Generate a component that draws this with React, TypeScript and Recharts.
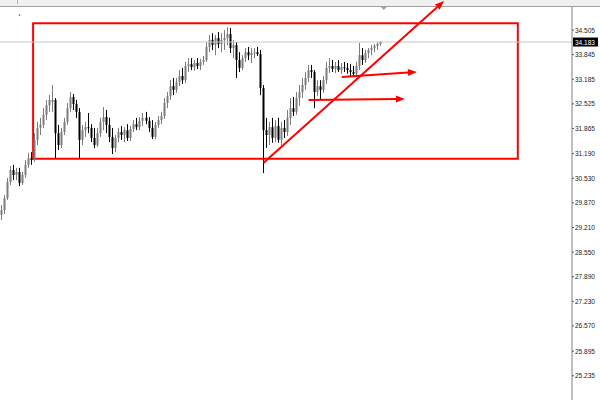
import React from 'react';
import { ComposedChart, Bar, XAxis, YAxis, ReferenceLine, ReferenceArea, ReferenceDot } from 'recharts';

// [open, high, low, close]
const candles: [number, number, number, number][] = [
  [29.55, 29.81, 29.41, 29.68], [29.68, 30.08, 29.57, 30.0], [30.0, 30.54, 29.95, 30.43], [30.43, 30.86, 30.35, 30.75],
  [30.75, 30.89, 30.48, 30.62], [30.62, 30.81, 30.48, 30.7], [30.7, 30.81, 30.32, 30.4], [30.4, 30.7, 30.35, 30.62],
  [30.62, 31.02, 30.54, 30.89], [30.89, 31.21, 30.81, 31.07], [31.07, 31.23, 30.89, 31.02], [31.02, 31.74, 30.97, 31.56],
  [31.56, 32.04, 31.42, 31.88], [31.88, 32.15, 31.69, 31.96], [31.96, 32.41, 31.88, 32.23], [32.23, 32.63, 32.09, 32.49],
  [32.49, 32.76, 32.31, 32.63], [32.57, 33.03, 32.31, 32.63], [32.63, 32.68, 31.07, 31.74], [31.74, 31.96, 31.29, 31.42],
  [31.42, 31.88, 31.34, 31.77], [31.77, 32.15, 31.69, 32.04], [32.04, 32.55, 31.96, 32.41], [32.41, 32.84, 32.31, 32.71],
  [32.71, 32.79, 32.36, 32.52], [32.52, 32.63, 32.15, 32.31], [32.31, 32.41, 31.07, 31.56], [31.56, 31.96, 31.42, 31.82],
  [31.82, 32.04, 31.64, 31.9], [31.9, 32.28, 31.74, 31.88], [31.88, 31.98, 31.5, 31.61], [31.61, 31.88, 31.34, 31.42],
  [31.42, 31.88, 31.37, 31.74], [31.74, 32.15, 31.64, 32.04], [32.04, 32.44, 31.82, 32.17], [32.17, 32.36, 31.74, 31.96],
  [31.96, 32.15, 31.5, 31.64], [31.64, 31.88, 31.18, 31.34], [31.34, 31.69, 31.23, 31.61], [31.61, 31.88, 31.5, 31.77],
  [31.77, 31.93, 31.56, 31.69], [31.69, 31.9, 31.5, 31.82], [31.82, 31.98, 31.53, 31.61], [31.61, 31.93, 31.53, 31.85],
  [31.85, 32.09, 31.77, 31.98], [31.98, 32.15, 31.82, 31.9], [31.9, 32.17, 31.82, 32.07], [32.07, 32.28, 31.93, 32.15],
  [32.15, 32.31, 31.98, 32.07], [32.07, 32.17, 31.77, 31.88], [31.88, 32.09, 31.58, 31.64], [31.64, 32.04, 31.58, 31.96],
  [31.96, 32.2, 31.88, 32.09], [32.09, 32.31, 31.98, 32.2], [32.2, 32.68, 32.12, 32.55], [32.55, 32.84, 32.41, 32.73],
  [32.73, 33.16, 32.63, 33.0], [33.0, 33.22, 32.76, 32.9], [32.9, 33.22, 32.82, 33.11], [33.11, 33.43, 33.0, 33.27],
  [33.27, 33.49, 33.06, 33.16], [33.16, 33.65, 33.08, 33.54], [33.54, 33.75, 33.38, 33.59], [33.59, 33.75, 33.43, 33.51],
  [33.51, 33.7, 33.41, 33.62], [33.62, 33.75, 33.46, 33.54], [33.54, 33.73, 33.43, 33.65], [33.65, 33.81, 33.57, 33.7],
  [33.7, 34.18, 33.65, 34.05], [34.05, 34.37, 33.91, 34.24], [34.24, 34.42, 33.97, 34.1], [34.1, 34.37, 33.83, 34.29],
  [34.29, 34.45, 34.02, 34.13], [34.13, 34.42, 33.91, 34.24], [34.24, 34.5, 33.97, 34.29], [34.29, 34.58, 34.1, 34.4],
  [34.4, 34.56, 33.89, 34.02], [34.02, 34.24, 33.75, 34.1], [34.1, 34.18, 33.22, 33.7], [33.7, 33.91, 33.38, 33.49],
  [33.49, 33.83, 33.43, 33.75], [33.75, 34.02, 33.65, 33.91], [33.91, 34.05, 33.7, 33.83], [33.83, 34.02, 33.62, 33.89],
  [33.89, 34.02, 33.75, 33.91], [33.91, 34.05, 33.81, 33.86], [33.86, 33.97, 32.76, 32.95], [32.95, 33.03, 30.67, 31.82],
  [31.82, 32.15, 31.34, 31.69], [31.69, 32.04, 31.42, 31.9], [31.9, 32.15, 31.48, 31.61], [31.61, 32.09, 31.5, 31.93],
  [31.93, 32.15, 31.48, 31.56], [31.56, 32.04, 31.42, 31.88], [31.88, 32.09, 31.61, 31.77], [31.77, 32.36, 31.66, 32.15],
  [32.15, 32.68, 31.96, 32.41], [32.41, 32.71, 32.2, 32.31], [32.31, 32.84, 32.23, 32.68], [32.68, 33.03, 32.47, 32.84],
  [32.84, 33.22, 32.68, 33.03], [33.03, 33.38, 32.9, 33.22], [33.22, 33.57, 33.11, 33.43], [33.43, 33.57, 33.22, 33.38],
  [33.38, 33.43, 32.41, 32.84], [32.84, 33.16, 32.73, 33.0], [33.0, 33.16, 32.63, 32.9], [32.9, 33.27, 32.82, 33.16],
  [33.16, 33.65, 33.06, 33.49], [33.49, 33.75, 33.35, 33.54], [33.54, 33.7, 33.38, 33.46], [33.46, 33.65, 33.35, 33.54],
  [33.54, 33.7, 33.38, 33.43], [33.43, 33.62, 33.33, 33.51], [33.51, 33.65, 33.38, 33.49], [33.49, 33.62, 33.33, 33.43],
  [33.43, 33.59, 33.27, 33.38], [33.38, 33.54, 33.24, 33.33], [33.33, 33.65, 33.27, 33.54], [33.54, 34.16, 33.43, 33.83],
  [33.83, 34.02, 33.57, 33.7], [33.7, 33.97, 33.62, 33.89], [33.89, 34.02, 33.75, 33.97], [33.97, 34.1, 33.83, 34.02],
  [34.02, 34.13, 33.91, 34.08], [34.08, 34.18, 33.97, 34.13], [34.13, 34.21, 34.08, 34.183],
];

const TOTAL_SLOTS = 190;
const priceTicks = [34.505, 33.845, 33.185, 32.525, 31.865, 31.19, 30.53, 29.87, 29.21, 28.55, 27.89, 27.23, 26.57, 25.895, 25.235];
const lastPrice = 34.183;
const priceDomain: [number, number] = [24.585, 35.122];

// annotations: [slot index, price]
const boxCorners = { x1: 11, x2: 171, y1: 31.05, y2: 34.685 };
const trendLine: [number, number][] = [[87, 30.94], [147, 35.28]];
const arrowUpper: [number, number][] = [[113, 33.245], [138, 33.379]];
const arrowLower: [number, number][] = [[102, 32.628], [134, 32.655]];
const shiftMarker: [number, number] = [127, 35.122];
const smallDot: [number, number] = [6, 34.907];

const data = Array.from({ length: TOTAL_SLOTS }, (_, i) => {
  const c = candles[i];
  return c ? { i, range: [c[2], c[1]], o: c[0], c: c[3] } : { i };
});

function CandleShape(props: any) {
  const { x, y, width, height, payload } = props;
  if (!payload || !payload.range) return null;
  const [lo, hi] = payload.range;
  const top = Math.min(y, y + height);
  const h = Math.abs(height);
  const toPx = (v: number) => (hi === lo ? top : top + ((hi - v) / (hi - lo)) * h);
  const bull = payload.c >= payload.o;
  const color = bull ? '#7c7c7c' : '#000000';
  const cxi = Math.floor(x + width / 2);
  const yo = toPx(payload.o);
  const yc = toPx(payload.c);
  const bt = Math.min(yo, yc);
  const bh = Math.max(1, Math.abs(yo - yc));
  return (
    <g>
      <line x1={cxi + 0.5} x2={cxi + 0.5} y1={top} y2={top + h} stroke={color} strokeWidth={1} />
      <rect x={cxi - 0.5} y={bt} width={2} height={bh} fill={color} />
    </g>
  );
}

function ArrowLine(props: any) {
  const { x1, y1, x2, y2 } = props;
  const ang = Math.atan2(y2 - y1, x2 - x1);
  const L = 9;
  const W = 3.5;
  const bx = x2 - L * Math.cos(ang);
  const by = y2 - L * Math.sin(ang);
  const p1 = `${bx + W * Math.sin(ang)},${by - W * Math.cos(ang)}`;
  const p2 = `${bx - W * Math.sin(ang)},${by + W * Math.cos(ang)}`;
  return (
    <g>
      <line x1={x1} y1={y1} x2={bx} y2={by} stroke="#ff0000" strokeWidth={2} />
      <polygon points={`${x2},${y2} ${p1} ${p2}`} fill="#ff0000" />
    </g>
  );
}

function PriceTick(props: any) {
  const { x, y, payload } = props;
  const v = payload.value;
  if (v === lastPrice) {
    return (
      <g>
        <rect x={x + 1} y={y - 4.5} width={25} height={9} fill="#000" />
        <text x={x + 3} y={y + 2.5} fontSize={6.5} fill="#fff" fontFamily="Liberation Sans, Arial, sans-serif">
          {v.toFixed(3)}
        </text>
      </g>
    );
  }
  return (
    <g>
      <line x1={x} x2={x + 2} y1={y} y2={y} stroke="#555" />
      <text x={x + 3} y={y + 2.5} fontSize={6.5} fill="#222" fontFamily="Liberation Sans, Arial, sans-serif">
        {v.toFixed(3)}
      </text>
    </g>
  );
}

export default function App() {
  return (
    <div style={{ position: 'absolute', left: 0, top: 0, width: 600, height: 400, overflow: 'hidden', background: '#fff' }}>
      <div style={{ position: 'absolute', left: 0, top: 0, width: 600, height: 6, background: '#f0f0f0', borderBottom: '1px solid #a0a0a0' }} />
      <div style={{ position: 'absolute', left: 17, top: 0, width: 1, height: 4, background: '#b0b0b0' }} />
      <div style={{ position: 'absolute', left: 0, top: 0 }}>
        <ComposedChart width={600} height={400} data={data} margin={{ top: 7, right: 0, bottom: 0, left: 0 }} barCategoryGap={0}>
          <XAxis dataKey="i" hide />
          <YAxis
            orientation="right"
            width={28}
            domain={priceDomain}
            allowDataOverflow
            ticks={[...priceTicks, lastPrice]}
            interval={0}
            tick={PriceTick}
            tickLine={false}
            tickSize={0}
            tickMargin={0}
            axisLine={{ stroke: '#808080' }}
          />
          <ReferenceLine y={lastPrice} stroke="#c8c8c8" strokeWidth={1} />
          <Bar dataKey="range" isAnimationActive={false} shape={CandleShape} />
          <ReferenceArea
            x1={boxCorners.x1}
            x2={boxCorners.x2}
            y1={boxCorners.y1}
            y2={boxCorners.y2}
            fill="none"
            fillOpacity={0}
            stroke="#ff0000"
            strokeWidth={2}
            ifOverflow="visible"
          />
          <ReferenceLine
            segment={trendLine.map(([x, y]) => ({ x, y }))}
            ifOverflow="visible"
            stroke="#ff0000"
            strokeWidth={2}
            shape={ArrowLine}
          />
          <ReferenceLine
            segment={arrowUpper.map(([x, y]) => ({ x, y }))}
            ifOverflow="visible"
            stroke="#ff0000"
            strokeWidth={2}
            shape={ArrowLine}
          />
          <ReferenceLine
            segment={arrowLower.map(([x, y]) => ({ x, y }))}
            ifOverflow="visible"
            stroke="#ff0000"
            strokeWidth={2}
            shape={ArrowLine}
          />
          <ReferenceDot
            x={shiftMarker[0]}
            y={shiftMarker[1]}
            ifOverflow="visible"
            shape={(p: any) => (
              <polygon points={`${p.cx - 3},${p.cy} ${p.cx + 3},${p.cy} ${p.cx},${p.cy + 3}`} fill="#a0a0a0" />
            )}
          />
          <ReferenceDot x={smallDot[0]} y={smallDot[1]} r={0.8} fill="#444" stroke="none" ifOverflow="visible" />
        </ComposedChart>
      </div>
    </div>
  );
}
